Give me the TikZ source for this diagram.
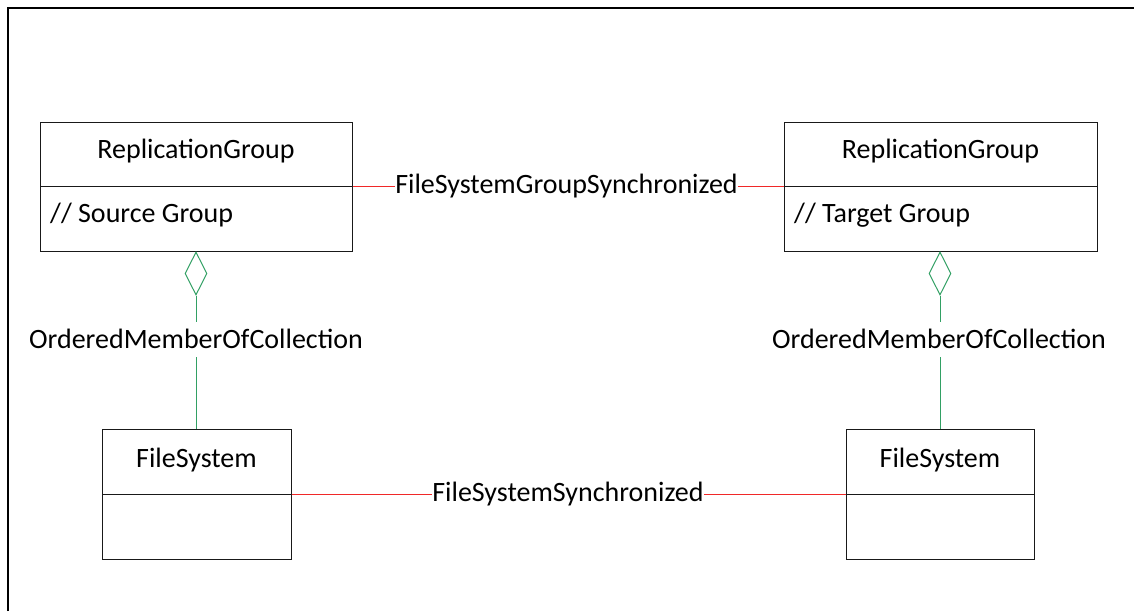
\documentclass[tikz,border=0pt]{standalone}
\usepackage{fontspec}
\setmainfont{Carlito}
\usetikzlibrary{shapes.geometric}
\definecolor{assocred}{RGB}{240,40,40}
\definecolor{aggrgreen}{RGB}{50,160,100}
\begin{document}
\begin{tikzpicture}[x=1pt,y=-1pt,
  every node/.style={font=\fontsize{28}{34}\selectfont},
  compart/.style={draw=black!90, line width=1pt, rectangle, inner sep=0pt},
  txt/.style={anchor=base, inner sep=0pt},
  assoc/.style={draw=assocred, line width=1.2pt},
  aggr/.style={draw=aggrgreen, line width=1pt},
  aggdiamond/.style={diamond, draw=aggrgreen, line width=1pt, inner sep=0pt, minimum width=22pt, minimum height=43pt, anchor=north},
  rolelabel/.style={anchor=base, inner xsep=0pt, inner ysep=0pt}
]
\useasboundingbox (0,0) rectangle (1134,611);
% outer frame (cropped at right and bottom)
\draw[line width=2.7pt, black] (8,611) -- (8,8) -- (1134,8);

% source replication group
\node[compart, minimum width=312pt, minimum height=64pt] (srcT) at (196,154) {};
\node[compart, minimum width=312pt, minimum height=65pt] (srcB) at (196,218.5) {};
\node[txt] (srcName) at (196,158) {ReplicationGroup};
\node[txt, anchor=base west] (srcNote) at (50,222) {// Source Group};

% target replication group
\node[compart, minimum width=313pt, minimum height=64pt] (tgtT) at (940.5,154) {};
\node[compart, minimum width=313pt, minimum height=65pt] (tgtB) at (940.5,218.5) {};
\node[txt] (tgtName) at (940.5,158) {ReplicationGroup};
\node[txt, anchor=base west] (tgtNote) at (794,222) {// Target Group};

% file systems
\node[compart, minimum width=189pt, minimum height=65pt] (fsLT) at (196.5,461.5) {};
\node[compart, minimum width=189pt, minimum height=65pt] (fsLB) at (196.5,526.5) {};
\node[txt] (fsLName) at (196.5,467) {FileSystem};
\node[compart, minimum width=188pt, minimum height=65pt] (fsRT) at (940,461.5) {};
\node[compart, minimum width=188pt, minimum height=65pt] (fsRB) at (940,526.5) {};
\node[txt] (fsRName) at (940,467) {FileSystem};

% aggregation diamonds
\node[aggdiamond] (dL) at (196,251.5) {};
\node[aggdiamond] (dR) at (940,251.5) {};

% role labels
\node[rolelabel] (omL) at (196,348) {OrderedMemberOfCollection};
\node[rolelabel] (omR) at (939,348) {OrderedMemberOfCollection};
\node[rolelabel] (grpSync) at (566.5,193) {FileSystemGroupSynchronized};
\node[rolelabel] (fsSync) at (568,501) {FileSystemSynchronized};

% aggregation connectors
\draw[aggr] (dL.south) -- (196,322);
\draw[aggr] (196,357) -- (dL.south |- fsLT.north);
\draw[aggr] (dR.south) -- (940,322);
\draw[aggr] (940,357) -- (dR.south |- fsRT.north);

% associations
\draw[assoc] (srcT.south east) -- (grpSync.west |- srcT.south east);
\draw[assoc] (grpSync.east |- tgtT.south west) -- (tgtT.south west);
\draw[assoc] (fsLT.south east) -- (fsSync.west |- fsLT.south east);
\draw[assoc] (fsSync.east |- fsRT.south west) -- (fsRT.south west);
\end{tikzpicture}
\end{document}
